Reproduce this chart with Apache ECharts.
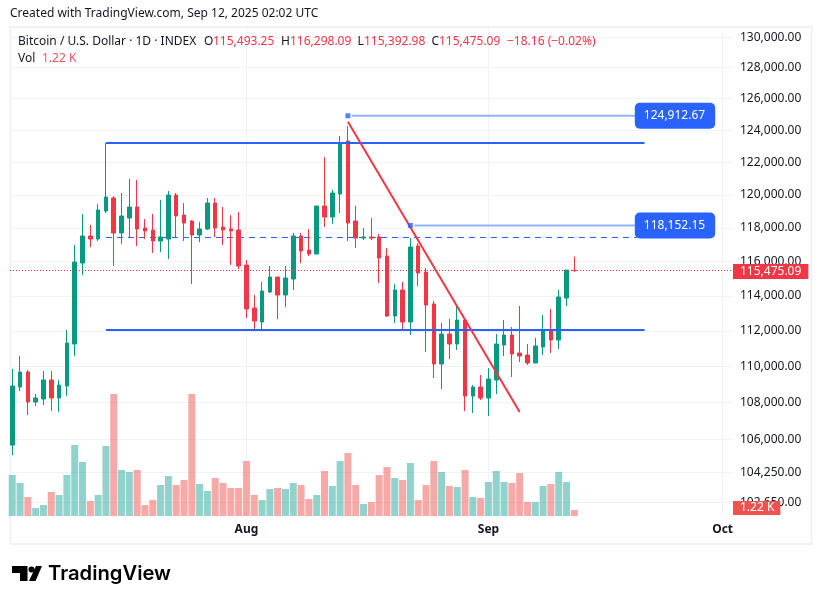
<!DOCTYPE html>
<html>
<head>
<meta charset="utf-8">
<style>
	html, body { margin: 0; padding: 0; background: #fff; }
	#chart { width: 822px; height: 604px; }
</style>
<script src="https://cdn.jsdelivr.net/npm/echarts@6/dist/echarts.min.js"></script>
</head>
<body>
<div id="chart"></div>
<script>
var days = [
	'2025-07-02','2025-07-03','2025-07-04','2025-07-05','2025-07-06','2025-07-07','2025-07-08','2025-07-09','2025-07-10','2025-07-11',
	'2025-07-12','2025-07-13','2025-07-14','2025-07-15','2025-07-16','2025-07-17','2025-07-18','2025-07-19','2025-07-20','2025-07-21',
	'2025-07-22','2025-07-23','2025-07-24','2025-07-25','2025-07-26','2025-07-27','2025-07-28','2025-07-29','2025-07-30','2025-07-31',
	'2025-08-01','2025-08-02','2025-08-03','2025-08-04','2025-08-05','2025-08-06','2025-08-07','2025-08-08','2025-08-09','2025-08-10',
	'2025-08-11','2025-08-12','2025-08-13','2025-08-14','2025-08-15','2025-08-16','2025-08-17','2025-08-18','2025-08-19','2025-08-20',
	'2025-08-21','2025-08-22','2025-08-23','2025-08-24','2025-08-25','2025-08-26','2025-08-27','2025-08-28','2025-08-29','2025-08-30',
	'2025-08-31','2025-09-01','2025-09-02','2025-09-03','2025-09-04','2025-09-05','2025-09-06','2025-09-07','2025-09-08','2025-09-09',
	'2025-09-10','2025-09-11','2025-09-12'
];
var opens = [
	105690,108850,109681,108025,108189,109237,108244,108905,111251,115919,
	117518,117339,119019,119806,117697,118597,119260,117996,117876,117220,
	117339,119988,118777,118416,117578,117936,119503,118056,117936,117876,
	115801,113302,112499,114226,115098,114053,114981,117518,116686,116449,
	119321,118657,120050,123323,118416,117398,117458,117458,116331,112843,
	114342,112499,116923,115390,113533,110127,111817,111251,112613,108354,
	108850,108244,109237,111194,111760,110743,110631,110183,111082,112044,
	111476,113879,115493.25
];
var closes = [
	108905,109681,108025,108244,109237,108244,108960,111307,115977,117518,
	117339,119079,119866,117697,118717,119260,117936,117816,117220,117458,
	119988,118717,118296,117578,117936,119503,117996,117876,117816,115742,
	113245,112556,114284,115098,114053,115040,117518,116627,116449,119321,
	118657,120111,123197,118296,117398,117458,117398,116213,112843,114342,
	112499,116864,115332,113475,110127,111817,111251,112613,108354,108850,
	108244,109292,111251,111760,110687,110575,110183,111138,112044,111476,
	113937,115507,115475.09
];
var lows = [
	105155,108629,107315,107805,107860,107532,107478,108354,110575,115215,
	116864,117220,118898,115742,117042,117458,116923,117339,116508,116568,
	116154,117458,117220,114690,117160,117876,117458,116982,115801,115566,
	112728,112044,111987,114168,112670,113360,114342,115919,116331,116449,
	118056,118236,118898,117220,116804,117279,117279,114749,112785,112442,
	112044,111760,114574,110800,109348,108739,110406,110912,107532,107423,
	108134,107260,108464,110575,109404,110238,110071,110183,110631,110743,
	110968,113417,115392.98
];
var highs = [
	109848,110575,109792,108464,109737,109737,109237,112044,116982,118838,
	118176,119443,123197,119927,120111,120966,120905,118536,118838,119685,
	120232,120111,119503,118476,118356,119806,119806,119260,118777,118958,
	116095,114053,114807,115742,115098,115742,117697,117697,117936,119321,
	122325,120293,123635,124267,119321,117996,118597,117637,116804,114690,
	114807,117398,117101,115625,113705,112442,112670,113475,112613,108960,
	109515,109903,111817,112613,112214,113417,111251,111590,112900,113245,
	114342,115507,116298.09
];
var volumes = [
	8385,6750,3885,1636,2250,4908,4295,8385,14520,11043,
	3068,4295,14315,24950,9407,8998,9407,2250,3272,6340,
	8180,6340,7362,24950,6544,5113,7771,6749,5726,5726,
	11248,4295,3272,5522,5726,5522,6749,6340,3477,4295,
	9203,6135,11248,12884,6340,2454,2863,8385,10021,7771,
	7362,10839,3272,6340,11248,8998,6135,5931,9407,3886,
	3681,6953,9203,6953,6749,8794,2863,2863,6135,6544,
	8998,6953,1220
];
var priceTicks = [130000,128000,126000,124000,122000,120000,118000,116000,114000,112000,110000,108000,106000,104250,102650];
var monthTicks = ['2025-08-01','2025-09-01','2025-10-01'];
var monthNames = ['Aug','Sep','Oct'];

var lastPrice = 115475.09;
var lastVolume = 1220;
var rangeTop = [['2025-07-14',123197],['2025-09-21',123197]];
var rangeBottom = [['2025-07-14',112044],['2025-09-21',112044]];
var rangeMiddle = [['2025-07-14',117430],['2025-09-20',117430]];
var trendLine = [['2025-08-14',124536],['2025-09-05',107478]];
var priceMarks = [
	{from: '2025-08-14', line: '2025-08-14T12:00:00Z', to: '2025-09-19T18:00:00Z', price: 124912.67},
	{from: '2025-08-22', line: '2025-08-22T12:00:00Z', to: '2025-09-19T18:00:00Z', price: 118152.15}
];

var GREEN = '#089981', RED = '#F23645', BLUE = '#2962FF', TEXT = '#131722', GRID = '#F1F2F4';
var FONT = '"Noto Sans", sans-serif';
var DAY = 86400000;

function fmt(v) {
	return v.toLocaleString('en-US', {minimumFractionDigits: 2, maximumFractionDigits: 2});
}
function pts(list) {
	return list.map(function (p) { return [Date.parse(p[0]), p[1]]; });
}

var candleData = days.map(function (d, i) {
	return [Date.parse(d), opens[i], closes[i], lows[i], highs[i]];
});
var volumeData = days.map(function (d, i) {
	return {
		value: [Date.parse(d), volumes[i]],
		itemStyle: {color: closes[i] >= opens[i] ? 'rgba(38,166,154,0.5)' : 'rgba(239,83,80,0.5)'}
	};
});

function plainLine(data, color, width, type, z) {
	return {
		type: 'line',
		data: pts(data),
		symbol: 'none',
		silent: true,
		z: z,
		lineStyle: {color: color, width: width, type: type || 'solid', cap: 'butt'}
	};
}

var seriesList = [
	{
		type: 'bar',
		yAxisIndex: 1,
		data: volumeData,
		barWidth: 7,
		z: 1,
		silent: true,
		markLine: {
			silent: true,
			symbol: 'none',
			animation: false,
			z: 6,
			lineStyle: {color: 'rgba(0,0,0,0)', width: 1},
			data: [{yAxis: lastVolume}],
			label: {
				show: true,
				position: 'end',
				distance: 1,
				offset: [0, -2],
				formatter: '1.22 K',
				color: '#fff',
				fontFamily: FONT,
				fontSize: 12,
				backgroundColor: '#EF5350',
				padding: [1, 6, 1, 7]
			}
		}
	},
	plainLine(rangeMiddle, BLUE, 1, [6, 5], 2),
	{
		type: 'candlestick',
		data: candleData,
		encode: {x: 0, y: [1, 2, 3, 4]},
		barWidth: 4,
		z: 3,
		silent: true,
		progressive: 0,
		itemStyle: {color: GREEN, color0: RED, borderColor: GREEN, borderColor0: RED, borderWidth: 1},
		markLine: {
			silent: true,
			symbol: 'none',
			animation: false,
			z: 5,
			lineStyle: {color: RED, width: 1, type: [1, 2]},
			data: [{yAxis: lastPrice}],
			label: {
				position: 'end',
				distance: 1,
				offset: [0, 1],
				formatter: fmt(lastPrice),
				color: '#fff',
				fontFamily: FONT,
				fontSize: 12,
				backgroundColor: RED,
				padding: [2, 7, 1, 7]
			}
		}
	},
	plainLine(rangeTop, BLUE, 2, null, 4),
	plainLine(rangeBottom, BLUE, 2, null, 4),
	plainLine(trendLine, RED, 2, null, 4)
];

priceMarks.forEach(function (m) {
	seriesList.push({
		type: 'line',
		data: [[Date.parse(m.line), m.price], [Date.parse(m.to), m.price]],
		symbol: 'none',
		silent: true,
		z: 4,
		lineStyle: {color: '#94B1FF', width: 2},
		endLabel: {
			show: true,
			distance: 0,
			formatter: fmt(m.price),
			color: '#fff',
			fontFamily: FONT,
			fontSize: 12,
			lineHeight: 14,
			backgroundColor: BLUE,
			borderRadius: 5,
			padding: [6, 10, 6, 9]
		}
	});
	seriesList.push({
		type: 'scatter',
		data: [[Date.parse(m.from), m.price]],
		symbol: 'rect',
		symbolSize: 5,
		silent: true,
		z: 5,
		itemStyle: {color: BLUE}
	});
});

// header texts, one element per piece so the x positions can match
var headerPieces = [
	{t: 'Created with TradingView.com, Sep 12, 2025 02:02 UTC', x: 10, y: 14, c: TEXT},
	{t: 'Bitcoin / U.S. Dollar \u00b7 1D \u00b7 INDEX', x: 18, y: 41.5, c: TEXT},
	{t: 'O', x: 204, y: 41.5, c: TEXT},
	{t: '115,493.25', x: 213, y: 41.5, c: RED},
	{t: 'H', x: 281, y: 41.5, c: TEXT},
	{t: '116,298.09', x: 290, y: 41.5, c: RED},
	{t: 'L', x: 357.5, y: 41.5, c: TEXT},
	{t: '115,392.98', x: 364, y: 41.5, c: RED},
	{t: 'C', x: 431.5, y: 41.5, c: TEXT},
	{t: '115,475.09', x: 439, y: 41.5, c: RED},
	{t: '\u221218.16 (\u22120.02%)', x: 507, y: 41.5, c: RED},
	{t: 'Vol', x: 18, y: 58.5, c: TEXT},
	{t: '1.22 K', x: 42, y: 58.5, c: '#F7525F'}
];

var graphicList = [
	{type: 'rect', silent: true, z: 0, shape: {x: 10.5, y: 27, width: 801, height: 517}, style: {fill: 'none', stroke: '#F0F1F3', lineWidth: 2}},
	// logo
	{type: 'polygon', silent: true, shape: {points: [[12,566],[27.5,566],[27.5,581],[20,581],[20,573],[12,573]]}, style: {fill: '#000'}},
	{type: 'circle', silent: true, shape: {cx: 31.5, cy: 569.5, r: 3}, style: {fill: '#000'}},
	{type: 'polygon', silent: true, shape: {points: [[36,566],[42,566],[35.5,581],[29,581]]}, style: {fill: '#000'}},
	{type: 'text', silent: true, x: 48, y: 574, style: {text: 'TradingView', fill: '#000', font: '600 20.2px Inter, sans-serif', textVerticalAlign: 'middle'}}
];
headerPieces.forEach(function (p) {
	graphicList.push({
		type: 'text',
		silent: true,
		z: 10,
		x: p.x,
		y: p.y,
		style: {text: p.t, fill: p.c, font: '12px ' + FONT, textVerticalAlign: 'middle'}
	});
});

var monthValues = monthTicks.map(function (d) { return Date.parse(d); });
var aug1 = Date.parse('2025-08-01');

var option = {
	animation: false,
	useUTC: true,
	backgroundColor: '#fff',
	grid: {left: 10, right: 90, top: 27, bottom: 88},
	xAxis: {
		type: 'value',
		min: aug1 - 30.29 * DAY,
		max: aug1 + 62.2 * DAY,
		axisLine: {show: false},
		axisTick: {show: false, customValues: monthValues},
		splitLine: {show: true, lineStyle: {color: GRID, width: 1}},
		axisLabel: {
			customValues: monthValues,
			hideOverlap: false,
			margin: 8,
			color: TEXT,
			fontFamily: FONT,
			fontSize: 12,
			fontWeight: 'bold',
			formatter: function (v) {
				return monthNames[monthValues.indexOf(v)] || '';
			}
		}
	},
	yAxis: [
		{
			type: 'log',
			position: 'right',
			min: 101953,
			max: 130668,
			axisLine: {show: false},
			axisTick: {show: false, customValues: priceTicks},
			splitLine: {show: true, lineStyle: {color: GRID, width: 1}},
			axisLabel: {
				customValues: priceTicks,
				margin: 8,
				padding: [1, 0, 0, 0],
				color: TEXT,
				fontFamily: FONT,
				fontSize: 12,
				formatter: function (v) { return fmt(v); }
			}
		},
		{
			type: 'value',
			show: false,
			min: 0,
			max: 100000,
			splitLine: {show: false}
		}
	],
	graphic: graphicList,
	series: seriesList
};

var myChart = echarts.init(document.getElementById('chart'));
myChart.setOption(option);
</script>
</body>
</html>
